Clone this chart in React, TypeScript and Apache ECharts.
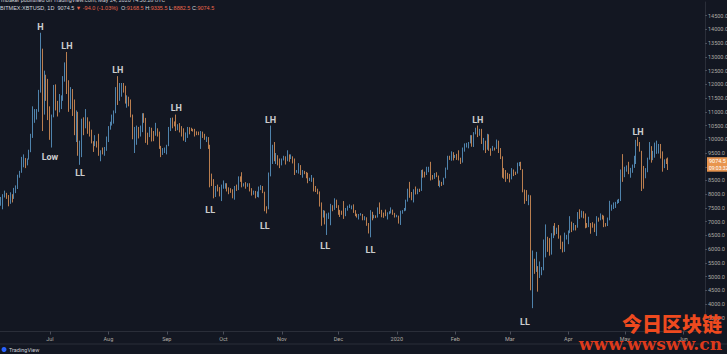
import React, { useEffect, useRef } from 'react';
import * as echarts from 'echarts';

// ---- Data (BITMEX:XBTUSD, 1D) ----
const START_DATE = '2019-06-05';
const FIRST_OPEN = 7690;
const FUTURE_DAYS = 19; // empty space right of the last candle

// each row: [close, high, low]; open of a day = previous close
const jun2019 = [[7786,7900,7580],[7980,8000,7450],[8052,8130,7880],[7954,8050,7830],[7689,7970,7560],[8000,8070,7650],[7919,8000,7700],[8145,8230,7830],[8231,8320,8040],[8694,8710,8190],[8838,8850,8600],[8994,9360,8780],[9320,9450,8980],[9082,9320,8950],[9274,9300,9050],[9530,9620,9260],[10145,10200,9530],[10702,11200,10050],[10856,11100,10600],[11012,11100,10720],[11790,11800,11000],[13017,13880,11700],[11183,13300,10300],[12407,12500,10900],[11960,12350,11400],[10818,12200,10700]];
const jul2019 = [[10583,11200,9980],[10801,10900,9700],[11961,11980,10800],[11215,12000,11050],[10978,11400,10830],[11208,11650,10980],[11451,11600,11100],[12285,12300,11400],[12573,12800,12100],[12156,13180,11650],[11358,12150,11000],[11815,11900,11100],[11392,11830,10850],[10256,11450,10150],[10895,11050,9900],[9477,11000,9400],[9693,9950,9070],[10666,10750,9350],[10530,10800,10150],[10767,11100,10400],[10599,10800,10200],[10343,10650,10100],[9900,10350,9850],[9811,9930,9540],[9911,10150,9750],[9870,9930,9700],[9477,10200,9400],[9552,9600,9200],[9519,9700,9450],[9607,9720,9400],[10085,10100,9580]];
const aug2019 = [[10399,10480,9900],[10519,10640,10350],[10821,10900,10500],[10970,11050,10570],[11805,11900,10950],[11478,12300,11250],[11941,12050,11400],[11966,12050,11550],[11862,12050,11700],[11354,11950,11300],[11523,11600,11150],[11383,11550,11200],[10854,11450,10800],[10051,10900,10000],[10311,10450,9500],[10374,10500,9800],[10231,10450,10030],[10345,10500,10100],[10916,10950,10260],[10764,10950,10600],[10138,10780,9870],[10131,10240,9800],[10407,10450,10080],[10160,10420,9920],[10138,10300,9930],[10370,10600,10130],[10185,10400,10100],[9754,10280,9650],[9510,9760,9350],[9598,9680,9430],[9630,9700,9500]];
const sep2019 = [[9757,9800,9450],[10346,10450,9750],[10623,10780,10300],[10594,10790,10400],[10575,10650,10470],[10353,10900,10300],[10517,10550,10330],[10441,10590,10250],[10334,10480,10100],[10115,10400,9950],[10178,10250,9900],[10410,10450,10050],[10360,10440,10180],[10358,10420,10300],[10347,10380,10280],[10276,10380,10100],[10241,10290,10150],[10198,10280,10150],[10266,10300,9650],[10181,10280,10050],[10019,10200,9980],[10070,10100,9900],[9729,10080,9650],[8620,9800,8250],[8486,8750,8300],[8118,8550,7850],[8251,8300,7900],[8245,8350,8100],[8104,8260,7920],[8293,8350,7750]];
const oct2019 = [[8343,8500,8200],[8393,8400,8200],[8259,8400,8100],[8205,8250,8000],[8151,8220,8050],[7988,8180,7850],[8245,8300,7800],[8228,8350,8120],[8595,8650,8150],[8586,8650,8450],[8321,8800,8250],[8336,8400,8280],[8321,8440,8200],[8374,8400,8270],[8205,8400,8100],[8047,8220,7950],[8103,8130,7980],[7973,8120,7850],[7988,8100,7900],[8222,8280,7880],[8243,8330,8150],[8078,8300,8040],[7514,8090,7380],[7493,7560,7300],[8660,8790,7450],[9244,10500,8650],[9551,9800,9100],[9256,9900,9200],[9427,9500,9100],[9205,9420,9050],[9199,9300,8950]];
const nov2019 = [[9261,9300,9050],[9324,9400,9230],[9235,9380,9080],[9412,9600,9200],[9342,9450,9180],[9360,9450,9280],[9267,9380,9120],[8804,9300,8700],[8813,8880,8780],[9055,9130,8750],[8757,9060,8700],[8815,8880,8600],[8808,8850,8730],[8708,8810,8580],[8491,8780,8400],[8550,8600,8480],[8577,8700,8450],[8309,8600,8100],[8206,8300,8080],[8027,8200,8000],[7642,8100,7550],[7296,7700,6850],[7397,7420,7150],[7047,7400,6900],[7146,7300,6515],[7218,7330,7100],[7531,7650,6870],[7463,7600,7380],[7761,7850,7430],[7569,7800,7500]];
const dec2019 = [[7424,7600,7250],[7321,7430,7170],[7320,7400,7250],[7252,7750,7100],[7448,7500,7200],[7546,7580,7400],[7556,7630,7500],[7564,7590,7450],[7400,7630,7320],[7278,7420,7200],[7217,7290,7150],[7243,7280,7080],[7269,7310,7220],[7124,7280,7050],[7152,7200,7050],[6932,7160,6850],[6640,6950,6570],[7276,7420,6430],[7202,7360,7050],[7218,7250,7120],[7191,7230,7130],[7511,7520,7150],[7355,7700,7280],[7322,7430,7160],[7275,7330,7140],[7238,7440,7200],[7290,7340,7080],[7317,7380,7270],[7422,7520,7300],[7293,7440,7250],[7193,7320,7150]];
const jan2020 = [[7200,7250,7160],[6985,7220,6930],[7345,7400,6880],[7410,7420,7290],[7411,7500,7380],[7769,7800,7400],[8163,8200,7730],[8079,8450,7870],[7879,8080,7780],[8166,8180,7700],[8037,8280,7990],[8192,8200,8000],[8145,8200,8080],[8827,8880,8120],[8808,8900,8600],[8723,8820,8610],[8929,9000,8700],[8942,9000,8800],[8706,9180,8500],[8657,8700,8530],[8745,8770,8560],[8680,8800,8620],[8406,8680,8300],[8445,8500,8250],[8367,8450,8300],[8596,8600,8340],[8910,8970,8580],[9358,9400,8890],[9316,9400,9250],[9508,9560,9220],[9350,9530,9230]];
const feb2020 = [[9393,9430,9320],[9344,9470,9250],[9293,9600,9230],[9180,9330,9100],[9613,9700,9150],[9729,9850,9550],[9795,9870,9700],[9865,9900,9670],[10116,10150,9850],[9856,10150,9730],[10208,10260,9720],[10326,10420,10180],[10214,10500,10080],[10312,10380,10130],[9889,10380,9830],[9934,10050,9600],[9690,9950,9500],[10141,10200,9620],[9633,10180,9580],[9608,9670,9400],[9686,9760,9580],[9663,9700,9590],[9924,9990,9650],[9650,9950,9500],[9342,9680,9280],[8820,9380,8600],[8784,8950,8560],[8672,8880,8450],[8599,8780,8560]];
const mar2020 = [[8562,8740,8430],[8869,8950,8540],[8787,8900,8660],[8755,8820,8700],[9078,9150,8750],[9122,9170,9020],[8909,9180,8880],[8108,8910,8070],[7923,8170,7650],[7909,8150,7750],[7911,7980,7600],[4970,7960,4500],[5563,5950,3850],[5200,5650,5100],[5392,5900,5170],[5014,5380,4450],[5225,5550,4950],[5238,5350,5050],[6191,6350,5230],[6198,6900,5700],[6185,6450,5900],[5830,6400,5760],[6416,6580,5800],[6734,6850,6400],[6681,6950,6500],[6716,6780,6550],[6469,6880,6380],[6242,6500,6000],[5922,6270,5880],[6429,6600,5900],[6438,6520,6350]];
const apr2020 = [[6606,6680,6180],[6793,7200,6580],[6733,7000,6620],[6868,6950,6680],[6791,6880,6680],[7271,7350,6780],[7176,7450,7100],[7334,7400,7150],[7302,7380,7120],[6865,7300,6760],[6859,6950,6780],[6971,7180,6800],[6845,6950,6560],[6842,6980,6780],[6642,6930,6620],[7116,7200,6480],[7096,7150,7000],[7257,7300,7050],[7189,7250,7080],[6881,7220,6800],[6880,6950,6820],[7117,7150,6840],[7429,7760,7050],[7550,7620,7400],[7569,7700,7460],[7679,7720,7500],[7795,7800,7650],[7807,7830,7680],[8801,8900,7750],[8658,9460,8450]];
const may2020 = [[8864,9000,8620],[8988,9050,8820],[8897,9180,8730],[8912,8960,8600],[9003,9080,8780],[9268,9400,8960],[9951,9980,9100],[9842,10080,9750],[9593,9900,9550],[8756,9580,8117],[8601,9030,8200],[8804,8950,8580],[9269,9330,8800],[9733,9900,9260],[9328,9750,9150],[9377,9580,9240],[9670,9880,9330],[9726,9950,9470],[9729,9830,9480],[9522,9830,9300],[9081,9560,8820],[9180,9270,8950],[9168.5,9300,9100],[9074.5,9335.5,8882.5]];

// swing annotations
const annLabels = ['H', 'LH', 'Low', 'LL', 'LH', 'LH', 'LL', 'LL', 'LH', 'LL', 'LL', 'LH', 'LL', 'LH'];
const annDates = ['2019-06-26', '2019-07-10', '2019-07-01', '2019-07-17', '2019-08-06', '2019-09-06', '2019-09-24', '2019-10-23', '2019-10-26', '2019-11-24', '2019-12-18', '2020-02-13', '2020-03-09', '2020-05-08'];
const annPrices = [14099, 13406, 9358, 8774, 12530, 11145, 7425, 6841, 10720, 6112, 5966, 10720, 3340, 10250];

const MONTH_NAMES = ['Jan', 'Feb', 'Mar', 'Apr', 'May', 'Jun', 'Jul', 'Aug', 'Sep', 'Oct', 'Nov', 'Dec'];
const PUBLISHED = 'mbaker published on TradingView.com, May 24, 2020 14:56:28 UTC';
const SYMBOL = 'BITMEX:XBTUSD, 1D';
const COUNTDOWN = '09:03:32';
const WATERMARK_CN = '今日区块链';
const WATERMARK_URL = 'www.wwsww.cn';

const UP = '#5f9fcf';
const DOWN = '#e6995a';
const BG = '#131722';
const AXIS_TEXT = '#aeaaa2';

function buildDates(start: string, count: number): string[] {
  const out: string[] = [];
  const d = new Date(start + 'T00:00:00Z');
  for (let i = 0; i < count; i++) {
    const y = d.getUTCFullYear();
    const m = String(d.getUTCMonth() + 1).padStart(2, '0');
    const dd = String(d.getUTCDate()).padStart(2, '0');
    out.push(`${y}-${m}-${dd}`);
    d.setUTCDate(d.getUTCDate() + 1);
  }
  return out;
}

export default function App() {
  const ref = useRef<HTMLDivElement>(null);

  useEffect(() => {
    document.body.style.margin = '0';
    document.body.style.background = BG;
    if (!ref.current) return;
    const chart = echarts.init(ref.current, undefined, { renderer: 'svg' });

    const rows = [...jun2019, ...jul2019, ...aug2019, ...sep2019, ...oct2019, ...nov2019, ...dec2019, ...jan2020, ...feb2020, ...mar2020, ...apr2020, ...may2020];
    let prev = FIRST_OPEN;
    const candles = rows.map(([c, h, l]) => {
      const o = prev;
      prev = c;
      return [o, c, l, h];
    });
    const dates = buildDates(START_DATE, rows.length + FUTURE_DAYS);
    const last = candles[candles.length - 1];
    const prevClose = candles[candles.length - 2][1];
    const change = last[1] - prevClose;
    const pct = (change / prevClose) * 100;
    const isMonthStart = (_i: number, v: string) => v.endsWith('-01');

    const header =
      `{w|${SYMBOL}  ${last[1].toFixed(1)} }{r|${change < 0 ? '▼' : '▲'} ${change.toFixed(1)} (${pct.toFixed(2)}%)}` +
      `{w|  O:}{r|${last[0].toFixed(1)}}{w| H:}{r|${last[3].toFixed(1)}}{w| L:}{r|${last[2].toFixed(1)}}{w| C:}{r|${last[1].toFixed(1)}}`;

    chart.setOption({
      animation: false,
      backgroundColor: BG,
      textStyle: { fontFamily: 'Roboto, "DejaVu Sans", sans-serif' },
      grid: { left: 0, right: 22, top: 2, bottom: 22.5, containLabel: false, outerBoundsMode: 'none' },
      xAxis: {
        type: 'category',
        data: dates,
        boundaryGap: true,
        axisLine: { show: true, lineStyle: { color: '#2a2e39', width: 1 } },
        axisTick: { show: true, interval: isMonthStart, alignWithLabel: true, length: 3, lineStyle: { color: '#4a4e5a' } },
        axisLabel: {
          interval: isMonthStart,
          color: AXIS_TEXT,
          fontSize: 5.5,
          margin: 4,
          formatter: (v: string) => {
            const m = parseInt(v.slice(5, 7), 10);
            return m === 1 ? v.slice(0, 4) : MONTH_NAMES[m - 1];
          },
        },
        splitLine: { show: false },
      },
      yAxis: {
        type: 'value',
        position: 'right',
        min: 3000,
        max: 15000,
        interval: 500,
        axisLine: { show: true, lineStyle: { color: '#2a2e39' } },
        axisTick: { show: true, length: 2, lineStyle: { color: '#4a4e5a' } },
        axisLabel: {
          color: AXIS_TEXT,
          fontSize: 5.5,
          margin: 3,
          showMinLabel: false,
          showMaxLabel: false,
          formatter: (v: number) => v.toFixed(1),
        },
        splitLine: { show: false },
      },
      series: [
        {
          type: 'candlestick',
          data: candles,
          barWidth: '55%',
          itemStyle: { color: UP, color0: DOWN, borderColor: UP, borderColor0: DOWN, borderWidth: 0.8 },
          markLine: {
            silent: true,
            symbol: ['none', 'none'],
            lineStyle: { color: 'rgba(0,0,0,0)', width: 0, type: 'solid' },
            data: [{ yAxis: last[1] }],
            label: {
              show: true,
              position: 'end',
              distance: 2,
              formatter: () => `{a|${last[1].toFixed(1)}}\n{b|${COUNTDOWN}}`,
              rich: {
                a: { backgroundColor: '#e8954f', color: '#ffffff', fontSize: 5.5, padding: [1, 2], lineHeight: 7 },
                b: { backgroundColor: '#e8954f', color: '#ffffff', fontSize: 5, padding: [1, 2], lineHeight: 7 },
              },
            },
            z: 10,
          },
        },
        {
          type: 'scatter',
          symbolSize: 1,
          itemStyle: { color: 'transparent' },
          data: annLabels.map((t, i) => ({ name: t, value: [annDates[i], annPrices[i]] })),
          label: {
            show: true,
            position: 'inside',
            formatter: '{b}',
            color: '#ffffff',
            fontSize: 9,
            fontWeight: 'bold',
            fontFamily: 'Roboto, sans-serif',
          },
          z: 5,
        },
      ],
      graphic: [
        { type: 'text', x: 1, y: -3, style: { text: PUBLISHED, fill: '#c9ccd4', fontSize: 5.5, fontFamily: 'Roboto', verticalAlign: 'top' } },
        {
          type: 'text',
          x: 0,
          y: 5,
          style: {
            text: header,
            fontSize: 5.5,
            fontFamily: 'Roboto',
            verticalAlign: 'top',
            rich: {
              w: { fill: '#d1d4dc', fontSize: 5.5 },
              r: { fill: '#e9674c', fontSize: 5.5 },
            },
          },
        },
        { type: 'line', shape: { x1: 0, y1: 344, x2: 727, y2: 344 }, style: { stroke: '#2a2e39', lineWidth: 1 } },
        { type: 'circle', shape: { cx: 4, cy: 349.5, r: 2.5 }, style: { fill: '#2962ff' } },
        { type: 'text', x: 9, y: 346.5, style: { text: 'TradingView', fill: '#c9ccd4', fontSize: 5.5, fontFamily: 'Roboto', verticalAlign: 'top' } },
        {
          type: 'text', x: 722, y: 312, z: 100,
          style: {
            text: `{cn|${WATERMARK_CN}}\n{url|${WATERMARK_URL}}`,
            align: 'right',
            verticalAlign: 'top',
            rich: {
              cn: { fill: '#ee4a1f', fontSize: 20, fontWeight: 900, fontFamily: '"Noto Sans CJK SC"', lineHeight: 23, align: 'right' },
              url: { fill: '#dd3a1c', fontSize: 17, fontWeight: 'bold', fontFamily: '"DejaVu Serif"', lineHeight: 18, align: 'right' },
            },
          },
        },
      ],
    });

    return () => chart.dispose();
  }, []);

  return <div ref={ref} style={{ width: 727, height: 354, position: 'absolute', left: 0, top: 0, background: BG }} />;
}
